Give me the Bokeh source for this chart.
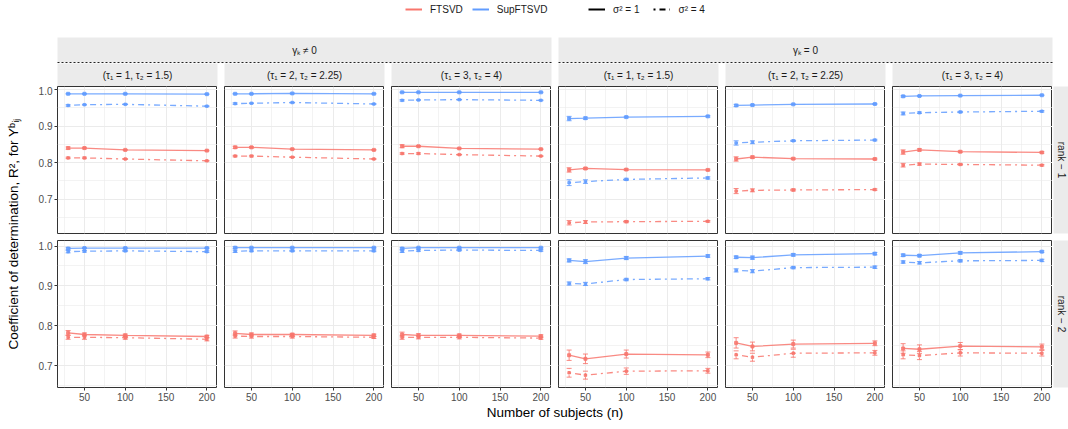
import math
from bokeh.plotting import figure
from bokeh.layouts import column, row
from bokeh.models import (Range1d, FixedTicker, NumeralTickFormatter, ColumnDataSource,
                          Whisker, TeeHead, Legend, LegendItem)
from bokeh.core.properties import value
from bokeh.embed import file_html
from bokeh.resources import INLINE

# ---------------- data ----------------
n_subjects = [30, 50, 100, 200]
gamma_labels = ["γₖ ≠ 0", "γₖ = 0"]
tau_labels = ["(τ₁ = 1, τ₂ = 1.5)", "(τ₁ = 2, τ₂ = 2.25)", "(τ₁ = 3, τ₂ = 4)"] * 2
rank_labels = ["rank − 1", "rank − 2"]
method_labels = ["FTSVD", "SupFTSVD"]
noise_labels = ["σ² = 1", "σ² = 4"]
x_ticks = [50, 100, 150, 200]
y_ticks = [0.7, 0.8, 0.9, 1.0]

# each list: six panels (γ≠0: τ settings 1-3, then γ=0: τ settings 1-3), four n values each
r1_ftsvd_s1 = [[0.840, 0.840, 0.835, 0.833], [0.842, 0.842, 0.837, 0.835], [0.845, 0.845, 0.839, 0.837],
               [0.780, 0.784, 0.781, 0.780], [0.810, 0.815, 0.811, 0.810], [0.829, 0.835, 0.830, 0.828]]
r1_ftsvd_s4 = [[0.813, 0.813, 0.810, 0.805], [0.818, 0.818, 0.815, 0.810], [0.825, 0.825, 0.822, 0.818],
               [0.635, 0.637, 0.638, 0.639], [0.722, 0.724, 0.725, 0.726], [0.793, 0.796, 0.795, 0.793]]
r1_sup_s1 = [[0.989, 0.989, 0.989, 0.988], [0.989, 0.989, 0.990, 0.989], [0.993, 0.993, 0.993, 0.993],
             [0.921, 0.922, 0.925, 0.927], [0.957, 0.958, 0.960, 0.961], [0.982, 0.983, 0.984, 0.985]]
r1_sup_s4 = [[0.957, 0.959, 0.960, 0.955], [0.962, 0.963, 0.965, 0.961], [0.971, 0.972, 0.973, 0.971],
             [0.745, 0.748, 0.754, 0.758], [0.854, 0.856, 0.860, 0.862], [0.935, 0.937, 0.939, 0.941]]

r1_ftsvd_s1_err = [[0.003, 0.002, 0.001, 0.001], [0.003, 0.002, 0.001, 0.001], [0.004, 0.002, 0.001, 0.001],
                   [0.006, 0.003, 0.002, 0.002], [0.006, 0.003, 0.002, 0.002], [0.006, 0.003, 0.002, 0.002]]
r1_ftsvd_s4_err = [[0.002, 0.002, 0.001, 0.001], [0.002, 0.002, 0.001, 0.001], [0.002, 0.002, 0.001, 0.001],
                   [0.006, 0.004, 0.003, 0.002], [0.007, 0.004, 0.003, 0.002], [0.005, 0.003, 0.002, 0.002]]
r1_sup_s1_err = [[0.001, 0.001, 0.001, 0.001], [0.001, 0.001, 0.001, 0.001], [0.001, 0.001, 0.001, 0.001],
                 [0.006, 0.003, 0.002, 0.002], [0.003, 0.002, 0.001, 0.001], [0.002, 0.001, 0.001, 0.001]]
r1_sup_s4_err = [[0.002, 0.001, 0.001, 0.001], [0.002, 0.001, 0.001, 0.001], [0.002, 0.001, 0.001, 0.001],
                 [0.008, 0.005, 0.003, 0.003], [0.006, 0.004, 0.002, 0.002], [0.004, 0.002, 0.002, 0.002]]

r2_ftsvd_s1 = [[0.782, 0.778, 0.776, 0.773], [0.781, 0.778, 0.778, 0.776], [0.778, 0.776, 0.776, 0.774],
               [0.726, 0.717, 0.729, 0.727], [0.757, 0.748, 0.754, 0.756], [0.743, 0.741, 0.749, 0.747]]
r2_ftsvd_s4 = [[0.771, 0.771, 0.770, 0.766], [0.774, 0.773, 0.773, 0.771], [0.771, 0.771, 0.771, 0.769],
               [0.682, 0.676, 0.686, 0.687], [0.727, 0.721, 0.731, 0.732], [0.727, 0.725, 0.732, 0.731]]
r2_sup_s1 = [[0.994, 0.995, 0.995, 0.995], [0.996, 0.996, 0.996, 0.996], [0.994, 0.996, 0.996, 0.996],
             [0.964, 0.961, 0.970, 0.975], [0.972, 0.971, 0.978, 0.981], [0.977, 0.976, 0.983, 0.986]]
r2_sup_s4 = [[0.986, 0.987, 0.988, 0.986], [0.987, 0.988, 0.988, 0.988], [0.987, 0.989, 0.990, 0.989],
             [0.906, 0.905, 0.916, 0.918], [0.939, 0.937, 0.946, 0.947], [0.960, 0.958, 0.963, 0.964]]

r2_ftsvd_s1_err = [[0.006, 0.004, 0.003, 0.003], [0.006, 0.004, 0.003, 0.003], [0.006, 0.004, 0.003, 0.003],
                   [0.013, 0.012, 0.010, 0.007], [0.013, 0.011, 0.010, 0.006], [0.012, 0.011, 0.009, 0.007]]
r2_ftsvd_s4_err = [[0.005, 0.005, 0.004, 0.004], [0.005, 0.004, 0.004, 0.003], [0.005, 0.004, 0.004, 0.003],
                   [0.011, 0.010, 0.008, 0.006], [0.010, 0.010, 0.010, 0.006], [0.010, 0.010, 0.008, 0.007]]
r2_sup_s1_err = [[0.002, 0.001, 0.001, 0.001], [0.002, 0.001, 0.001, 0.001], [0.002, 0.001, 0.001, 0.001],
                 [0.004, 0.005, 0.004, 0.003], [0.003, 0.004, 0.003, 0.003], [0.003, 0.003, 0.003, 0.002]]
r2_sup_s4_err = [[0.003, 0.002, 0.002, 0.002], [0.003, 0.002, 0.002, 0.002], [0.003, 0.002, 0.002, 0.002],
                 [0.004, 0.004, 0.003, 0.003], [0.004, 0.004, 0.003, 0.003], [0.003, 0.003, 0.003, 0.003]]

rows_data = [
    [(0, 0, r1_ftsvd_s1, r1_ftsvd_s1_err), (0, 1, r1_ftsvd_s4, r1_ftsvd_s4_err),
     (1, 0, r1_sup_s1, r1_sup_s1_err), (1, 1, r1_sup_s4, r1_sup_s4_err)],
    [(0, 0, r2_ftsvd_s1, r2_ftsvd_s1_err), (0, 1, r2_ftsvd_s4, r2_ftsvd_s4_err),
     (1, 0, r2_sup_s1, r2_sup_s1_err), (1, 1, r2_sup_s4, r2_sup_s4_err)],
]

# ---------------- style / layout ----------------
COLORS = ["#F8766D", "#619CFF"]
DASHES = ["solid", "2 4 6 4"]
FONT = "Liberation Sans"
STRIP_FILL = "#EBEBEB"
GRID = "#EBEBEB"
BORDER = "#333333"

W, H = 1068, 429
YLAB_W = 28
AXIS_W = 29
GAP = 7
PANEL_W = 160
PANEL_H = 147
HEADER_H = 86
ROW_GAP = 7
XAXIS_H = 17
STRIP_W = W - YLAB_W - AXIS_W - 6 * PANEL_W - 5 * GAP
FOOTER_H = H - HEADER_H - (PANEL_H + ROW_GAP) - (PANEL_H + XAXIS_H)
x_lim = (17, 213)
y_lims = [(0.6055, 1.009), (0.645, 1.014)]
panel_lefts = [YLAB_W + AXIS_W + k * (PANEL_W + GAP) for k in range(6)]


def base_fig(**kw):
    p = figure(toolbar_location=None, output_backend="svg", tools="", **kw)
    p.outline_line_color = None
    p.background_fill_color = "white"
    p.border_fill_color = "white"
    return p


# ---------------- header (legend + strips) ----------------
header = base_fig(width=W, height=HEADER_H, x_range=Range1d(0, W), y_range=Range1d(HEADER_H, 0),
                  x_axis_location=None, y_axis_location=None,
                  min_border_left=0, min_border_right=0, min_border_top=0, min_border_bottom=0)
header.grid.visible = False

for g in range(2):
    gl = panel_lefts[3 * g]
    gr = panel_lefts[3 * g + 2] + PANEL_W
    header.quad(left=[gl], right=[gr], top=[37], bottom=[62], fill_color=STRIP_FILL, line_color=None)
    header.text(x=[(gl + gr) / 2], y=[49.5], text=[gamma_labels[g]], text_align="center",
                text_baseline="middle", text_font=value(FONT), text_font_size=value("10px"),
                text_color="#1A1A1A")
    header.segment(x0=[gl], y0=[62], x1=[gr], y1=[62], line_color="#222222", line_width=1,
                   line_dash="2 2")
for k in range(6):
    l = panel_lefts[k]
    header.quad(left=[l], right=[l + PANEL_W], top=[63], bottom=[HEADER_H], fill_color=STRIP_FILL,
                line_color=None)
    header.text(x=[l + PANEL_W / 2], y=[74.5], text=[tau_labels[k]], text_align="center",
                text_baseline="middle", text_font=value(FONT), text_font_size=value("10px"),
                text_color="#1A1A1A")

# legend-only renderers: their data lie outside the header's visible range
off = dict(x=[-50, -40], y=[-50, -50])
dummy_m = [header.line(x=off["x"], y=off["y"], line_color=c, line_width=2) for c in COLORS]
dummy_n = [header.line(x=off["x"], y=off["y"], line_color="black", line_width=2, line_dash=d)
           for d in DASHES]


def make_legend(renderers, labels, x, spacing):
    leg = Legend(items=[LegendItem(label=value(lb), renderers=[r]) for lb, r in zip(labels, renderers)],
                 orientation="horizontal", location=(x, HEADER_H - 15), glyph_width=17, glyph_height=12,
                 label_height=12, label_width=10, label_standoff=8, spacing=spacing, padding=0, margin=0,
                 border_line_color=None, background_fill_alpha=0, label_text_font=FONT,
                 label_text_font_size="10px", label_text_color="#1A1A1A")
    header.add_layout(leg)


make_legend(dummy_m, method_labels, 405, 9)
make_legend(dummy_n, noise_labels, 588, 14)


# ---------------- panels ----------------
def make_panel(r, k):
    left_border = AXIS_W if k == 0 else GAP
    bottom_border = ROW_GAP if r == 0 else XAXIS_H
    p = base_fig(width=left_border + PANEL_W, height=PANEL_H + bottom_border,
                 x_range=Range1d(*x_lim), y_range=Range1d(*y_lims[r]),
                 x_axis_location="below" if r == 1 else None,
                 y_axis_location="left" if k == 0 else None,
                 min_border_left=left_border, min_border_right=0, min_border_top=0,
                 min_border_bottom=bottom_border)
    p.outline_line_color = BORDER
    p.outline_line_width = 1
    p.xgrid.ticker = FixedTicker(ticks=x_ticks, minor_ticks=[25, 75, 125, 175])
    p.ygrid.ticker = FixedTicker(ticks=y_ticks, minor_ticks=[0.65, 0.75, 0.85, 0.95])
    for gset in (p.xgrid, p.ygrid):
        gset.grid_line_color = GRID
        gset.grid_line_width = 1
        gset.minor_grid_line_color = GRID
        gset.minor_grid_line_width = 0.6
    for ax in p.axis:
        ax.axis_line_color = None
        ax.major_tick_line_color = BORDER
        ax.major_tick_in = 0
        ax.major_tick_out = 3
        ax.minor_tick_line_color = None
        ax.major_label_text_font = FONT
        ax.major_label_text_font_size = "10px"
        ax.major_label_text_color = "#4D4D4D"
        ax.major_label_standoff = 2
    if r == 1:
        p.xaxis.ticker = FixedTicker(ticks=x_ticks)
    if k == 0:
        p.yaxis.ticker = FixedTicker(ticks=y_ticks)
        p.yaxis.formatter = NumeralTickFormatter(format="0.0")

    for m, nz, vals, errs in rows_data[r]:
        y = vals[k]
        e = errs[k]
        src = ColumnDataSource(dict(x=n_subjects, y=y,
                                    lo=[a - b for a, b in zip(y, e)],
                                    hi=[a + b for a, b in zip(y, e)]))
        c = COLORS[m]
        p.line("x", "y", source=src, line_color=c, line_width=1.3, line_alpha=0.85,
               line_dash=DASHES[nz])
        p.scatter("x", "y", source=src, marker="square", size=3 if nz == 0 else 2.5,
                  fill_color=c, line_color=c, fill_alpha=0.8, line_alpha=0.8)
        head_kw = dict(size=5, line_color=c, line_width=1, line_alpha=0.85)
        p.add_layout(Whisker(source=src, base="x", lower="lo", upper="hi", dimension="height",
                             line_color=c, line_width=1, line_alpha=0.85,
                             line_dash="solid" if nz == 0 else "2 2",
                             lower_head=TeeHead(**head_kw), upper_head=TeeHead(**head_kw)))
    return p


def make_rank_strip(r):
    bottom_border = ROW_GAP if r == 0 else XAXIS_H
    s = base_fig(width=STRIP_W, height=PANEL_H + bottom_border, x_range=Range1d(0, 1),
                 y_range=Range1d(0, 1), x_axis_location=None, y_axis_location=None,
                 min_border_left=1, min_border_right=0, min_border_top=0, min_border_bottom=bottom_border)
    s.grid.visible = False
    s.background_fill_color = STRIP_FILL
    s.text(x=[0.5], y=[0.5], text=[rank_labels[r]], angle=-math.pi / 2, text_align="center",
           text_baseline="middle", text_font=value(FONT), text_font_size=value("10px"),
           text_color="#1A1A1A")
    return s


panel_rows = []
for r in range(2):
    figs = [make_panel(r, k) for k in range(6)] + [make_rank_strip(r)]
    panel_rows.append(row(*figs, spacing=0))

# ---------------- axis titles ----------------
body_h = (PANEL_H + ROW_GAP) + (PANEL_H + XAXIS_H) + FOOTER_H
ylab = base_fig(width=YLAB_W, height=body_h, x_range=Range1d(0, YLAB_W), y_range=Range1d(body_h, 0),
                x_axis_location=None, y_axis_location=None,
                min_border_left=0, min_border_right=0, min_border_top=0, min_border_bottom=0)
ylab.grid.visible = False
ylab.text(x=[13], y=[(PANEL_H + ROW_GAP + PANEL_H) / 2 - 3],
          text=["Coefficient of determination, R², for Yᵇᵢⱼ"],
          angle=math.pi / 2, text_align="center", text_baseline="middle", text_font=value(FONT),
          text_font_size=value("13.5px"), text_color="black")

foot_w = W - YLAB_W
footer = base_fig(width=foot_w, height=FOOTER_H, x_range=Range1d(0, foot_w), y_range=Range1d(FOOTER_H, 0),
                  x_axis_location=None, y_axis_location=None,
                  min_border_left=0, min_border_right=0, min_border_top=0, min_border_bottom=0)
footer.grid.visible = False
footer.text(x=[AXIS_W + (6 * PANEL_W + 5 * GAP) / 2], y=[8], text=["Number of subjects (n)"],
            text_align="center", text_baseline="middle", text_font=value(FONT),
            text_font_size=value("13.5px"), text_color="black")

layout = column(header, row(ylab, column(panel_rows[0], panel_rows[1], footer, spacing=0), spacing=0),
                spacing=0)

open("out.html", "w").write(file_html(layout, INLINE))
